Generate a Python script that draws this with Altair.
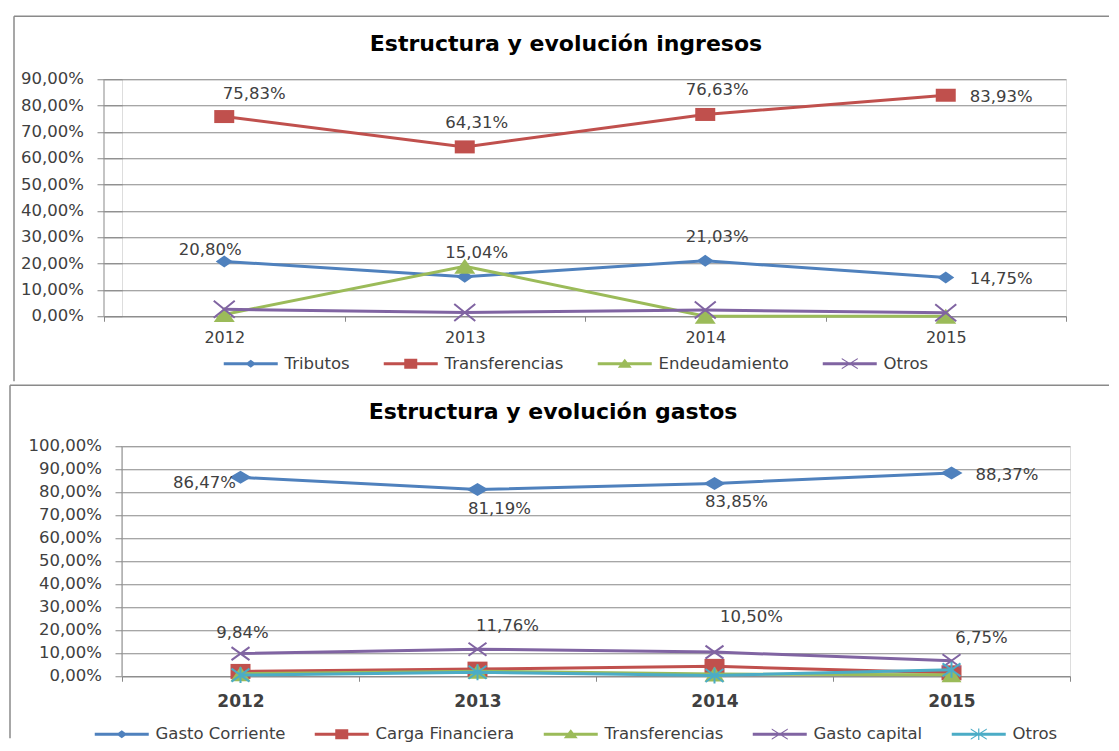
import altair as alt
import pandas as pd

# ---------------- data ----------------
YEARS = ["2012", "2013", "2014", "2015"]

ING_SERIES = ["Tributos", "Transferencias", "Endeudamiento", "Otros"]
ING_TRIBUTOS = [20.80, 15.04, 21.03, 14.75]
ING_TRANSFERENCIAS = [75.83, 64.31, 76.63, 83.93]
ING_ENDEUDAMIENTO = [0.7, 19.0, 0.0, 0.0]
ING_OTROS = [2.67, 1.4, 2.34, 1.32]
ING_LABELED = ["Tributos", "Transferencias"]
ING_TICKS = [0, 10, 20, 30, 40, 50, 60, 70, 80, 90]

GAS_SERIES = ["Gasto Corriente", "Carga Financiera", "Transferencias", "Gasto capital", "Otros"]
GAS_CORRIENTE = [86.47, 81.19, 83.85, 88.37]
GAS_CARGA = [2.1, 3.1, 4.3, 1.5]
GAS_TRANSFERENCIAS = [1.1, 2.2, 1.0, 0.6]
GAS_CAPITAL = [9.84, 11.76, 10.50, 6.75]
GAS_OTROS = [0.5, 1.75, 0.35, 2.78]
GAS_LABELED = ["Gasto Corriente", "Gasto capital"]
GAS_TICKS = [0, 10, 20, 30, 40, 50, 60, 70, 80, 90, 100]

# label placement keywords (Excel-like), one per year
ING_LABEL_POS = {"Tributos": ["upleft", "above", "above", "right"],
                 "Transferencias": ["aboveright", "above", "above", "right"]}
GAS_LABEL_POS = {"Gasto Corriente": ["left", "below", "below", "right"],
                 "Gasto capital": ["abovec", "aboveright", "highright", "aboveright"]}

# ---------------- style ----------------
FONT = "DejaVu Sans"
TXT = "#404040"
GRID = "#898989"
FRAME = "#8a8a8a"
BLUE, RED, GREEN, PURPLE, CYAN = "#4F81BD", "#C0504D", "#9BBB59", "#8064A2", "#4BACC6"

PLACEMENTS = {
    "above": dict(dx=12, dy=-24, align="center"),
    "abovec": dict(dx=2, dy=-21, align="center"),
    "aboveright": dict(dx=30, dy=-23, align="center"),
    "highright": dict(dx=37, dy=-35, align="center"),
    "upleft": dict(dx=-14, dy=-11, align="center"),
    "right": dict(dx=24, dy=2, align="left"),
    "below": dict(dx=22, dy=19, align="center"),
    "left": dict(dx=-36, dy=6, align="center"),
}

# chart markers (custom paths, unit = sqrt(size)/2 px)
TOP_MARKERS = {
    "diamond": ("M0,-0.6L0.85,0L0,0.6L-0.85,0Z", True),
    "square": ("M-1,-0.65H1V0.65H-1Z", True),
    "triangle": ("M0,-0.75L1.05,0.75H-1.05Z", True),
    "x": ("M-1.05,-0.85L1.05,0.85M-1.05,0.85L1.05,-0.85", False),
}
BOT_MARKERS = {
    "diamond": ("M0,-0.65L1.1,0L0,0.65L-1.1,0Z", True),
    "square": ("M-1,-0.75H1V0.75H-1Z", True),
    "triangle": ("M0,-0.75L1,0.75H-1Z", True),
    "x": ("M-0.9,-0.65L0.9,0.65M-0.9,0.65L0.9,-0.65", False),
    "star": ("M-0.9,-0.65L0.9,0.65M-0.9,0.65L0.9,-0.65M0,-0.8V0.8", False),
}
LEG_LINE = "M-0.9,-0.3H9.9V0.3H-0.9Z"
LEG_MARK = {
    "diamond": "M4.5,-0.8L5.6,0L4.5,0.8L3.4,0Z",
    "square": "M3.2,-1H5.8V1H3.2Z",
    "triangle": "M4.5,-1L5.9,0.8H3.1Z",
    "x": "M2.9,-1.12L6.1,0.88L6.1,1.12L2.9,-0.88Z M2.9,0.88L6.1,-1.12L6.1,-0.88L2.9,1.12Z",
    "star": "M2.9,-1.12L6.1,0.88L6.1,1.12L2.9,-0.88Z M2.9,0.88L6.1,-1.12L6.1,-0.88L2.9,1.12Z M4.38,-1.15H4.62V1.15H4.38Z",
}


def fmt(v):
    return f"{v:.2f}".replace(".", ",") + "%"


def long_table(series, values, labeled, label_pos):
    rows = []
    for s, vals in zip(series, values):
        for i, (yr, v) in enumerate(zip(YEARS, vals)):
            rows.append({
                "year": yr, "serie": s, "value": v,
                "label": fmt(v) if s in labeled else "",
                "pos": label_pos[s][i] if s in label_pos else "",
            })
    return pd.DataFrame(rows)


def panel(P):
    W, H = P["W"], P["H"]
    x0 = P["x0"]
    df = long_table(P["series"], P["values"], P["labeled"], P["label_pos"])
    base = alt.Chart(df)

    x_enc = alt.X(
        "year:O",
        scale=alt.Scale(type="band", domain=YEARS, paddingInner=0, paddingOuter=0,
                        range=[x0, W]),
        axis=alt.Axis(title=None, labelAngle=0, tickBand="extent", grid=False,
                      domain=True, domainColor=GRID, domainWidth=1,
                      ticks=True, tickSize=5, tickColor=GRID,
                      labelPadding=P["xpad"], labelFont=FONT, labelFontSize=P["xfs"],
                      labelFontWeight=P["xfw"], labelColor=TXT),
    )
    yscale = alt.Scale(domain=[0, P["ymax"]], nice=False, zero=True)
    yaxis = alt.Axis(title=None, values=P["ticks"], labels=False,
                     grid=True, gridColor=GRID, gridWidth=1,
                     domain=False,
                     ticks=True, tickSize=7 - x0, tickColor=GRID, tickWidth=1)

    def y_of(field):
        return alt.Y(f"{field}:Q", scale=yscale, axis=yaxis)

    y_enc = y_of("value")

    leg = alt.Legend(title=None, orient="none", legendX=P["legX"], legendY=P["legY"],
                     direction="horizontal", columns=len(P["series"]),
                     columnPadding=P["colpad"], labelFont=FONT, labelFontSize=16.5,
                     labelColor=TXT, labelOffset=48, symbolSize=100,
                     symbolStrokeWidth=0, padding=0, labelLimit=0)
    legend_paths = [LEG_LINE + " " + LEG_MARK[m] for m in P["markers"]]
    legend_layer = base.mark_point(filled=True, opacity=1, size=100, strokeWidth=0).encode(
        x=x_enc, y=y_enc,
        color=alt.Color("serie:N", scale=alt.Scale(domain=P["series"], range=P["colors"]), legend=leg),
        shape=alt.Shape("serie:N", scale=alt.Scale(domain=P["series"], range=legend_paths), legend=leg),
    ).transform_filter("false")

    one = alt.Chart(pd.DataFrame({"t": [P["title"]]}))
    # vertical value-axis line at the left edge of the category range
    axis_line = one.mark_rule(color=GRID, strokeWidth=1).encode(
        x=alt.value(x0), y=alt.value(0), y2=alt.value(H))

    # value-axis tick labels, placed on the y scale
    tick_df = pd.DataFrame({"tick": P["ticks"], "lab": [fmt(t) for t in P["ticks"]]})
    tick_labels = alt.Chart(tick_df).mark_text(
        align="right", baseline="middle", font=FONT, fontSize=16.5, color=TXT
    ).encode(x=alt.value(x0 - 20), y=y_of("tick"), text="lab:N")

    layers = [legend_layer, axis_line, tick_labels]
    for s, c, m in zip(P["series"], P["colors"], P["markers"]):
        sub = base.transform_filter(alt.datum.serie == s)
        path, filled = P["mk"][m]
        layers.append(sub.mark_line(color=c, strokeWidth=3).encode(x=x_enc, y=y_enc))
        layers.append(sub.mark_point(shape=path, size=400, filled=filled, color=c,
                                     strokeWidth=2, opacity=1).encode(x=x_enc, y=y_enc))

    for name, pl in PLACEMENTS.items():
        layers.append(
            base.transform_filter(alt.datum.pos == name)
            .mark_text(dx=pl["dx"], dy=pl["dy"], align=pl["align"], baseline="middle",
                       font=FONT, fontSize=16.5, color=TXT)
            .encode(x=x_enc, y=y_enc, text="label:N")
        )

    layers.append(one.mark_text(font=FONT, fontSize=22, fontWeight="bold", color="black",
                                align="center", baseline="middle")
                  .encode(x=alt.value(P["tx"]), y=alt.value(P["ty"]), text="t:N"))
    fl, ft, fb, fr = P["frame"]
    layers.append(one.mark_rule(color=FRAME, strokeWidth=1.5)
                  .encode(x=alt.value(fl), y=alt.value(ft), y2=alt.value(fb)))
    layers.append(one.mark_rule(color=FRAME, strokeWidth=1.5)
                  .encode(x=alt.value(fl), x2=alt.value(fr), y=alt.value(ft)))

    return alt.layer(*layers).properties(width=W, height=H)


# common plot origin (set by the lower panel) is at page x ~ 120.75
top = panel(dict(
    W=944, x0=-18, H=237, ymax=90, ticks=ING_TICKS, series=ING_SERIES,
    values=[ING_TRIBUTOS, ING_TRANSFERENCIAS, ING_ENDEUDAMIENTO, ING_OTROS],
    labeled=ING_LABELED, label_pos=ING_LABEL_POS,
    colors=[BLUE, RED, GREEN, PURPLE], markers=["diamond", "square", "triangle", "x"],
    mk=TOP_MARKERS, xpad=8, xfs=16, xfw="normal",
    legX=98, legY=276, colpad=30,
    title="Estructura y evolución ingresos", tx=444, ty=-35,
    frame=(-108, -63, 302, 987),
))

bottom = panel(dict(
    W=948, x0=0, H=230, ymax=100, ticks=GAS_TICKS, series=GAS_SERIES,
    values=[GAS_CORRIENTE, GAS_CARGA, GAS_TRANSFERENCIAS, GAS_CAPITAL, GAS_OTROS],
    labeled=GAS_LABELED, label_pos=GAS_LABEL_POS,
    colors=[BLUE, RED, GREEN, PURPLE, CYAN], markers=["diamond", "square", "triangle", "x", "star"],
    mk=BOT_MARKERS, xpad=12, xfs=17, xfw="bold",
    legX=-31, legY=279.5, colpad=25,
    title="Estructura y evolución gastos", tx=431, ty=-34.5,
    frame=(-112, -61, 292, 987),
))

chart = alt.vconcat(
    top, bottom, spacing=0,
    padding={"left": 0, "top": 6.25, "right": 0, "bottom": 0},
).resolve_scale(
    x="independent", y="independent", color="independent", shape="independent"
).configure_view(stroke=None).configure(background="white")

chart.save("out.html", embed_options={"renderer": "svg", "actions": False})
